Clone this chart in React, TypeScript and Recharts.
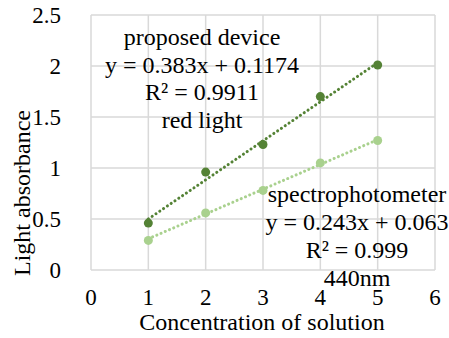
import {
  ScatterChart,
  Scatter,
  XAxis,
  YAxis,
  CartesianGrid,
  ReferenceLine,
  Customized,
} from "recharts";

// concentration levels measured
const concentrations = [1, 2, 3, 4, 5];
// absorbance read by the proposed device (red light)
const deviceAbsorbance = [0.46, 0.96, 1.23, 1.7, 2.01];
// absorbance read by the spectrophotometer (440nm)
const spectroAbsorbance = [0.29, 0.56, 0.78, 1.05, 1.27];

const xTicks = [0, 1, 2, 3, 4, 5, 6];
const yTicks = [0, 0.5, 1, 1.5, 2, 2.5];

// linear fits [slope, intercept]
const deviceFit = [0.383, 0.1174];
const spectroFit = [0.243, 0.063];

const deviceLabel = ["proposed device", "y = 0.383x + 0.1174", "R² = 0.9911", "red light"];
const spectroLabel = ["spectrophotometer", "y = 0.243x + 0.063", "R² = 0.999", "440nm"];

const DARK = "#548235";
const LIGHT = "#a9d18e";
const FONT = "Liberation Serif, DejaVu Serif, serif";

const deviceData = concentrations.map((x, i) => ({ x, y: deviceAbsorbance[i] }));
const spectroData = concentrations.map((x, i) => ({ x, y: spectroAbsorbance[i] }));

const fitSegment = (fit: number[]) => {
  const x0 = concentrations[0];
  const x1 = concentrations[concentrations.length - 1];
  return [
    { x: x0, y: fit[0] * x0 + fit[1] },
    { x: x1, y: fit[0] * x1 + fit[1] },
  ];
};

const textStyle = { fontFamily: FONT, fontSize: 24, fill: "#000" };

// trendline captions and axis titles
const Annotations = () => (
  <g style={textStyle} textAnchor="middle">
    {deviceLabel.map((t, i) => (
      <text key={t} x={202} y={45 + i * 27.5} style={textStyle}>
        {t}
      </text>
    ))}
    {spectroLabel.map((t, i) => (
      <text key={t} x={357} y={202 + i * 28} style={textStyle}>
        {t}
      </text>
    ))}
    <text x={262} y={330} style={textStyle}>
      Concentration of solution
    </text>
    <text x={0} y={0} transform="translate(30, 193) rotate(-90)" style={textStyle}>
      Light absorbance
    </text>
  </g>
);

const Dot = ({ cx, cy, fill }: any) => <circle cx={cx} cy={cy} r={4.5} fill={fill} />;

export default function App() {
  const tick = { fontSize: 23, fill: "#000", style: { fontFamily: FONT } };
  return (
    <div style={{ position: "absolute", left: 0, top: 0, background: "#fff", fontFamily: FONT }}>
      <ScatterChart width={449} height={338} margin={{ top: 15, right: 14, left: 0, bottom: 0 }}>
        <CartesianGrid stroke="#d9d9d9" strokeWidth={1.5} />
        <XAxis
          type="number"
          dataKey="x"
          domain={[0, 6]}
          ticks={xTicks}
          tick={tick}
          tickLine={false}
          axisLine={false}
          tickMargin={13}
          height={68}
        />
        <YAxis
          type="number"
          dataKey="y"
          domain={[0, 2.5]}
          ticks={yTicks}
          tick={tick}
          tickLine={false}
          axisLine={false}
          tickMargin={24}
          width={91}
          tickFormatter={(v: number) => String(v)}
        />
        <ReferenceLine segment={fitSegment(spectroFit)} stroke={LIGHT} strokeWidth={3} strokeDasharray="0.1 4.5" strokeLinecap="round" ifOverflow="visible" />
        <ReferenceLine segment={fitSegment(deviceFit)} stroke={DARK} strokeWidth={3} strokeDasharray="0.1 4.5" strokeLinecap="round" ifOverflow="visible" />
        <Scatter data={spectroData} fill={LIGHT} shape={<Dot />} isAnimationActive={false} />
        <Scatter data={deviceData} fill={DARK} shape={<Dot />} isAnimationActive={false} />
        <Customized component={Annotations} />
      </ScatterChart>
    </div>
  );
}
